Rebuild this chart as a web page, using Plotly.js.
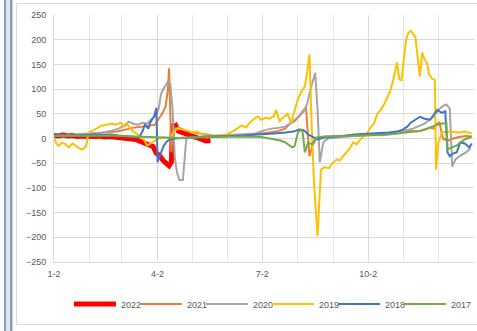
<!DOCTYPE html>
<html>
<head>
<meta charset="utf-8">
<script src="https://cdn.plot.ly/plotly-3.0.1.min.js"></script>
<style>
  html, body { margin: 0; padding: 0; background: #ffffff; }
  #wrap { position: relative; width: 477px; height: 331px; overflow: hidden; }
  #chart { position: absolute; left: 0; top: 0; width: 477px; height: 331px; }
  .frame { position: absolute; pointer-events: none; }
</style>
</head>
<body>
<div id="wrap">
  <div id="chart"></div>
  <div class="frame" style="left:4px;top:0;width:4px;height:331px;border-left:2px solid #8a9cbc;border-right:2px solid #8a9cbc;background:#dfe5ef;"></div>
  <div class="frame" style="left:12px;top:0;width:1px;height:331px;background:#c8ccd2;"></div>
  <div class="frame" style="left:16px;top:3px;width:470px;height:320px;border:1px solid #d9d9d9;"></div>
</div>
<script>
// ---- data (dates as month-day on a common year axis) ----
const seriesNames = ["2022", "2021", "2020", "2019", "2018", "2017"];

const d2022 = ["01-02","01-06","01-10","01-14","01-18","01-22","01-26","01-30","02-03","02-07","02-11","02-15","02-19","02-23","02-27","03-03","03-07","03-11","03-14","03-17","03-20","03-23","03-26","03-29","04-01","04-04","04-07","04-10","04-12","04-14","04-15","04-16","04-18","04-20","04-23","04-26","04-29","05-02","05-06","05-10","05-14","05-18"];
const v2022 = [6,5,7,5,6,4,5,4,5,4,5,3,4,3,2,3,2,0,-2,-5,-8,-10,-14,-16,-30,-35,-45,-52,-55,-48,30,20,25,15,12,10,8,5,2,-2,-5,-4];

const d2021 = ["01-02","01-08","01-15","01-22","01-29","02-05","02-12","02-19","02-26","03-05","03-12","03-19","03-26","03-31","04-03","04-06","04-09","04-11","04-12","04-14","04-15","04-17","04-20","04-24","04-28","05-03","05-08","05-14","05-20","05-27","06-03","06-10","06-17","06-24","07-01","07-08","07-14","07-22","07-26","07-30","08-03","08-06","08-09","08-12","08-15","08-18","08-22","08-29","09-05","09-12","09-19","09-26","10-03","10-10","10-17","10-24","10-31","11-07","11-14","11-21","11-25","11-28","12-01","12-03","12-06","12-10","12-15","12-20","12-26","12-31"];
const v2021 = [5,7,6,8,9,10,11,12,14,18,22,24,27,28,40,50,65,100,142,-28,5,20,22,18,15,12,10,8,6,5,5,6,7,8,10,12,14,20,30,35,45,55,63,-36,-12,0,3,4,5,5,6,6,7,7,8,9,12,15,14,18,22,20,30,32,0,-5,0,3,5,4];

const d2020 = ["01-02","01-09","01-16","01-23","01-30","02-06","02-13","02-20","02-27","03-04","03-08","03-12","03-16","03-20","03-24","03-28","03-31","04-03","04-05","04-07","04-09","04-11","04-13","04-15","04-17","04-19","04-21","04-24","04-27","05-01","05-08","05-15","05-22","05-29","06-05","06-12","06-19","06-26","07-03","07-10","07-17","07-22","07-26","07-30","08-03","08-07","08-10","08-13","08-17","08-19","08-21","08-24","08-28","09-04","09-14","09-24","10-04","10-14","10-24","11-01","11-10","11-20","11-28","12-03","12-06","12-09","12-12","12-14","12-17","12-21","12-26","12-30"];
const v2020 = [6,5,7,8,9,10,12,15,20,26,34,30,28,32,30,40,45,60,90,100,108,115,112,60,-40,-70,-84,-84,0,2,3,4,4,5,6,7,8,10,16,20,22,24,30,38,45,55,70,100,133,60,-48,-8,0,2,4,6,8,8,10,15,20,30,45,60,66,69,60,-57,-42,-35,-28,-20];

const d2019 = ["01-02","01-04","01-06","01-09","01-12","01-15","01-18","01-21","01-24","01-27","01-30","02-01","02-04","02-08","02-12","02-17","02-21","02-25","03-01","03-04","03-07","03-10","03-13","03-17","03-21","03-24","03-27","03-31","04-03","04-07","04-11","04-14","04-16","04-20","04-24","04-28","05-02","05-06","05-10","05-14","05-20","05-26","06-01","06-06","06-10","06-14","06-18","06-21","06-25","06-28","07-01","07-05","07-08","07-12","07-14","07-17","07-20","07-24","07-27","07-30","08-02","08-05","08-08","08-10","08-12","08-14","08-16","08-19","08-22","08-25","08-29","09-01","09-05","09-07","09-10","09-13","09-16","09-19","09-22","09-26","10-01","10-04","10-07","10-10","10-13","10-16","10-18","10-21","10-24","10-27","10-29","10-31","11-02","11-04","11-06","11-08","11-10","11-12","11-14","11-16","11-18","11-20","11-22","11-24","11-27","11-29","11-30","12-02","12-05","12-10","12-15","12-20","12-25","12-31"];
const v2019 = [2,-10,-15,-8,-12,-18,-10,-15,-20,-22,-15,12,15,20,26,28,30,28,32,24,28,18,12,6,-2,-14,-10,-5,0,2,1,3,15,20,18,16,12,14,10,6,5,6,8,14,20,26,22,32,40,45,38,42,40,45,58,35,42,50,32,55,80,95,105,135,170,20,-90,-198,-63,-58,-60,-50,-42,-45,-36,-28,-20,-8,-12,0,10,22,30,50,58,70,79,95,120,154,120,118,160,200,214,218,212,206,165,125,174,160,154,130,120,119,-63,-8,12,14,13,12,14,10];

const d2018 = ["01-02","01-09","01-16","01-23","01-30","02-06","02-13","02-20","02-27","03-06","03-13","03-17","03-20","03-22","03-25","03-27","03-30","04-01","04-02","04-05","04-07","04-10","04-13","04-17","04-25","05-05","05-15","05-25","06-05","06-15","06-25","07-02","07-12","07-22","07-29","08-03","08-07","08-11","08-19","08-25","09-01","09-10","09-20","10-01","10-10","10-20","10-27","11-01","11-05","11-08","11-12","11-16","11-20","11-25","11-28","12-01","12-05","12-08","12-10","12-12","12-15","12-18","12-21","12-25","12-29","12-31"];
const v2018 = [8,6,7,6,7,8,7,8,6,5,4,2,15,28,20,34,45,62,-48,-30,-16,-6,-2,0,2,3,4,4,5,6,7,8,10,12,14,18,17,8,-2,2,3,5,8,9,10,12,14,18,24,32,38,44,40,38,48,58,52,55,-28,-36,-30,-28,-8,-10,-18,-10];

const d2017 = ["01-02","01-15","02-01","02-15","03-01","03-15","04-01","04-10","04-20","05-01","05-15","06-01","06-15","07-01","07-10","07-18","07-22","07-26","07-28","07-30","08-02","08-04","08-06","08-08","08-11","08-14","08-18","08-25","09-05","09-15","09-25","10-05","10-15","10-27","11-05","11-15","11-22","11-26","12-01","12-05","12-09","12-10","12-14","12-18","12-21","12-25","12-29","12-31"];
const v2017 = [5,6,5,6,5,4,3,2,1,2,3,4,4,3,0,-4,-8,-14,-18,-16,12,18,14,-28,-8,-12,2,4,4,5,6,6,7,10,12,15,20,24,28,30,32,-22,-18,-14,-8,-2,2,4];

const seriesDates = [d2022, d2021, d2020, d2019, d2018, d2017];
const seriesValues = [v2022, v2021, v2020, v2019, v2018, v2017];
const seriesColors = ["#ff0000", "#ed7d31", "#a5a5a5", "#ffc000", "#4472c4", "#70ad47"];
const seriesWidths = [5, 2, 2, 2, 2, 2];

const yTickValues = [-250, -200, -150, -100, -50, 0, 50, 100, 150, 200, 250];
const axisYear = "2021";

// ---- traces ----
const traces = seriesNames.map((name, i) => ({
  type: "scatter",
  mode: "lines",
  name: name,
  x: seriesDates[i].map(md => axisYear + "-" + md),
  y: seriesValues[i],
  line: { color: seriesColors[i], width: seriesWidths[i] },
  hoverinfo: "skip"
}));

const tickFont = { family: "Liberation Sans, Arial, sans-serif", size: 9, color: "#595959" };

const layout = {
  width: 477,
  height: 331,
  margin: { l: 54, r: 3, t: 15, b: 69 },
  paper_bgcolor: "#ffffff",
  plot_bgcolor: "#ffffff",
  showlegend: true,
  legend: {
    orientation: "h",
    x: 0.507, xanchor: "center",
    y: -0.17, yanchor: "middle",
    font: tickFont,
    itemwidth: 42,
    entrywidth: 9,
    entrywidthmode: "pixels",
    traceorder: "normal"
  },
  xaxis: {
    type: "date",
    range: ["2021-01-02", "2022-01-02"],
    tick0: "2021-01-02",
    dtick: "M3",
    tickformat: "%-m-%-d",
    ticks: "",
    showgrid: true,
    gridcolor: "#d9d9d9",
    gridwidth: 1,
    minor: { dtick: "M1", tick0: "2021-01-02", showgrid: true, gridcolor: "#e6e6e6", gridwidth: 1 },
    showline: true,
    linecolor: "#d9d9d9",
    linewidth: 1,
    mirror: false,
    zeroline: false,
    tickfont: tickFont,
    ticklabelstandoff: 3,
    fixedrange: true
  },
  yaxis: {
    range: [-250, 250],
    tickvals: yTickValues,
    ticks: "",
    showgrid: true,
    gridcolor: "#d9d9d9",
    gridwidth: 1,
    zeroline: false,
    showline: true,
    linecolor: "#d9d9d9",
    linewidth: 1,
    tickfont: tickFont,
    ticklabelstandoff: 5,
    fixedrange: true
  }
};

Plotly.newPlot("chart", traces, layout, { displayModeBar: false, staticPlot: true }).then(() => {
  // let the last legend label extend past the fixed entry width
  document.querySelectorAll("#chart clipPath").forEach(cp => {
    if (cp.id.indexOf("legend") === 0) {
      const r = cp.querySelector("rect");
      if (r) r.setAttribute("width", "477");
    }
  });
});
</script>
</body>
</html>
